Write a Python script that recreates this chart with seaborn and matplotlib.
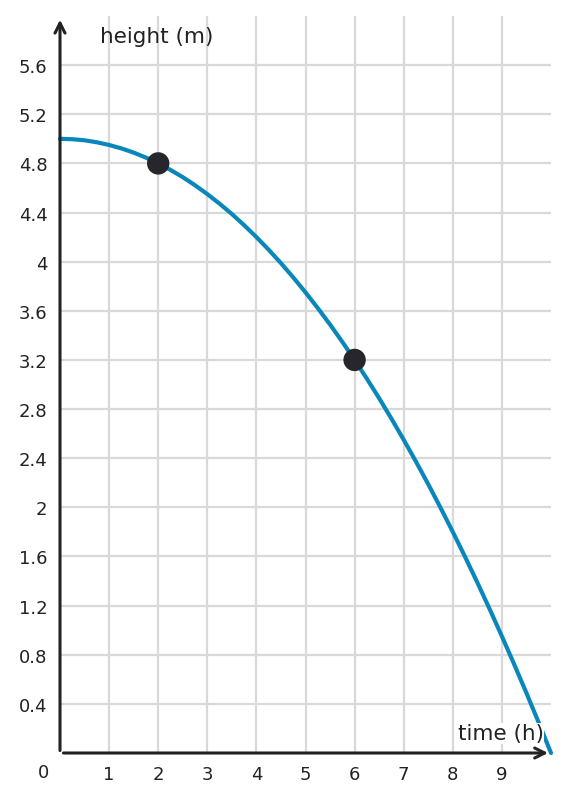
import numpy as np
import pandas as pd
import matplotlib
matplotlib.use("Agg")
import matplotlib.pyplot as plt
import seaborn as sns

# curve, every quarter hour
time_h = [0, 0.25, 0.5, 0.75, 1, 1.25, 1.5, 1.75, 2, 2.25, 2.5, 2.75,
          3, 3.25, 3.5, 3.75, 4, 4.25, 4.5, 4.75, 5, 5.25, 5.5, 5.75,
          6, 6.25, 6.5, 6.75, 7, 7.25, 7.5, 7.75, 8, 8.25, 8.5, 8.75,
          9, 9.25, 9.5, 9.75, 10]
height_m = [5.0, 4.997, 4.988, 4.972, 4.95, 4.922, 4.888, 4.847,
            4.8, 4.747, 4.688, 4.622, 4.55, 4.472, 4.388, 4.297,
            4.2, 4.097, 3.988, 3.872, 3.75, 3.622, 3.488, 3.347,
            3.2, 3.047, 2.888, 2.722, 2.55, 2.372, 2.188, 1.997,
            1.8, 1.597, 1.388, 1.172, 0.95, 0.722, 0.488, 0.247, 0.0]

# marked points
pt_time = [2, 6]
pt_height = [4.8, 3.2]

x_ticks = [1, 2, 3, 4, 5, 6, 7, 8, 9]
y_ticks = [0.4, 0.8, 1.2, 1.6, 2, 2.4, 2.8, 3.2, 3.6, 4, 4.4, 4.8, 5.2, 5.6]
y_tick_labels = ["0.4", "0.8", "1.2", "1.6", "2", "2.4", "2.8", "3.2",
                 "3.6", "4", "4.4", "4.8", "5.2", "5.6"]

sns.set_theme(style="white")
plt.rcParams['font.family'] = ['DejaVu Sans']

W, H = 569, 803
fig = plt.figure(figsize=(W / 100, H / 100), dpi=100)
ax = fig.add_axes([60 / W, 49 / H, 491 / W, 737 / H])

curve = pd.DataFrame({'t': time_h, 'h': height_m})
pts = pd.DataFrame({'t': pt_time, 'h': pt_height})

ax.set_xlim(0, 10)
ax.set_ylim(0, 6)

# grid
for xv in x_ticks:
    ax.axvline(xv, color='#d9d9d9', lw=1.6, zorder=0)
for yv in y_ticks:
    ax.axhline(yv, color='#d9d9d9', lw=1.6, zorder=0)

sns.lineplot(data=curve, x='t', y='h', ax=ax, color='#0a87ba', lw=3,
             zorder=3, clip_on=False)
sns.scatterplot(data=pts, x='t', y='h', ax=ax, color='#26262c', s=260,
                edgecolor='none', zorder=4)

for s in ax.spines.values():
    s.set_visible(False)

ax_col = '#222222'
# axes with arrows
ax.annotate('', xy=(0, 5.97), xytext=(0, 0.02),
            arrowprops=dict(arrowstyle='->', color=ax_col, lw=2.2,
                            mutation_scale=18, shrinkA=0, shrinkB=0),
            annotation_clip=False)
ax.annotate('', xy=(9.94, 0), xytext=(0.07, 0),
            arrowprops=dict(arrowstyle='->', color=ax_col, lw=2.2,
                            mutation_scale=18, shrinkA=0, shrinkB=0),
            annotation_clip=False)

ax.set_xticks(x_ticks)
ax.set_xticklabels([str(v) for v in x_ticks])
ax.set_yticks(y_ticks)
ax.set_yticklabels(y_tick_labels)
ax.tick_params(axis='both', which='major', direction='in', length=4,
               width=2, color=ax_col, labelsize=13, labelcolor='#222222')
ax.tick_params(axis='x', pad=9)
ax.tick_params(axis='y', pad=9)
ax.set_xlabel('')
ax.set_ylabel('')

ax.text(-0.34, -0.155, '0', fontsize=13, color='#222222',
        ha='center', va='center')
ax.text(0.82, 5.84, 'height (m)', fontsize=15.5, color='#222222',
        ha='left', va='center')
ax.text(9.85, 0.16, 'time (h)', fontsize=15.5, color='#222222',
        ha='right', va='center',
        bbox=dict(facecolor='white', edgecolor='none', pad=0.5))

fig.savefig('out.png', dpi=100)
